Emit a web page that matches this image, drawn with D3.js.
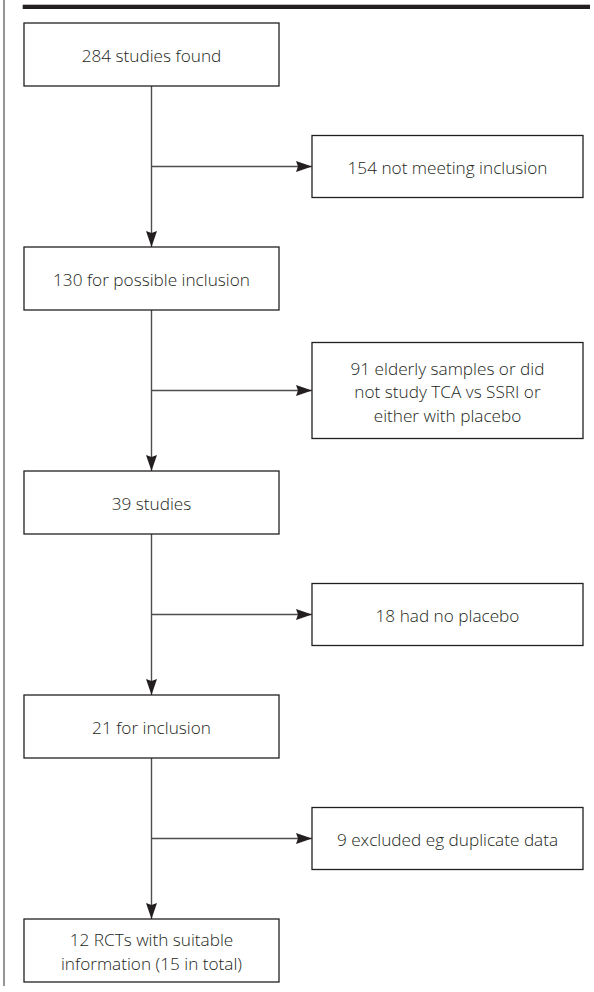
<!DOCTYPE html>
<html>
<head>
<meta charset="utf-8">
<script src="https://cdn.jsdelivr.net/npm/d3@7/dist/d3.min.js"></script>
<style>
  html, body { margin: 0; padding: 0; background: #ffffff; }
  svg { display: block; }
  text { font-family: "Open Sans", "Noto Sans", sans-serif; font-weight: 300; }
</style>
</head>
<body>
<svg id="chart" width="594" height="992"></svg>
<script>
// ---- Data ----
const mainSteps = [
  ["284 studies found"],
  ["130 for possible inclusion"],
  ["39 studies"],
  ["21 for inclusion"],
  ["12 RCTs with suitable", "information (15 in total)"]
];
const exclusions = [
  ["154 not meeting inclusion"],
  ["91 elderly samples or did", "not study TCA vs SSRI or", "either with placebo"],
  ["18 had no placebo"],
  ["9 excluded eg duplicate data"]
];

// ---- Layout ----
const W = 594, H = 992;
const svg = d3.select("#chart");
const ink = "#231f20", connector = "#4d4d4f";
const fontSize = 17.2, lineH = 23.5;

const y = d3.scaleLinear().domain([0, mainSteps.length - 1]).range([54.5, 950.5]);
const mainX = d3.scaleLinear().domain([0, 1]).range([24, 279]);
const sideX = d3.scaleLinear().domain([0, 1]).range([312, 583]);
const mainH = 63;
const sideH = d => d.length > 2 ? 96 : 62;

// Defs: arrowheads
const defs = svg.append("defs");
defs.append("marker")
  .attr("id", "arrow")
  .attr("viewBox", "0 0 16 11")
  .attr("refX", 16).attr("refY", 5.5)
  .attr("markerWidth", 16).attr("markerHeight", 11)
  .attr("markerUnits", "userSpaceOnUse")
  .attr("orient", "auto")
  .append("path").attr("d", "M0,0 L16,5.5 L0,11 L2,5.5 Z").attr("fill", ink);

// Frame: left rule and top bar
svg.append("line").attr("x1", 4).attr("x2", 4).attr("y1", 0).attr("y2", 986)
  .attr("stroke", "#2a2a2a").attr("stroke-width", 1);
svg.append("rect").attr("x", 22.7).attr("y", 4.7).attr("width", 590 - 22.7).attr("height", 4.3)
  .attr("fill", ink);

const cx = (mainX(0) + mainX(1)) / 2;

// Vertical connectors
const vLinks = d3.range(mainSteps.length - 1);
svg.selectAll("line.v").data(vLinks).join("line")
  .attr("class", "v")
  .attr("x1", cx).attr("x2", cx)
  .attr("y1", i => y(i) + mainH / 2)
  .attr("y2", i => y(i + 1) - mainH / 2)
  .attr("stroke", connector).attr("stroke-width", 1.4)
  .attr("marker-end", "url(#arrow)");

// Horizontal connectors
svg.selectAll("line.h").data(exclusions).join("line")
  .attr("class", "h")
  .attr("x1", cx).attr("x2", sideX(0))
  .attr("y1", (d, i) => y(i + 0.5)).attr("y2", (d, i) => y(i + 0.5))
  .attr("stroke", connector).attr("stroke-width", 1.4)
  .attr("marker-end", "url(#arrow)");

function drawText(g, lines, centerX, centerY) {
  const n = lines.length;
  g.selectAll("text").data(lines).join("text")
    .attr("x", centerX)
    .attr("y", (d, j) => centerY + 7.5 + (j - (n - 1) / 2) * lineH)
    .attr("text-anchor", "middle")
    .attr("font-size", fontSize)
    .attr("fill", ink)
    .text(d => d);
}

// Main boxes
const mainG = svg.selectAll("g.main").data(mainSteps).join("g").attr("class", "main");
mainG.append("rect")
  .attr("x", mainX(0)).attr("width", mainX(1) - mainX(0))
  .attr("y", (d, i) => y(i) - mainH / 2).attr("height", mainH)
  .attr("fill", "#fff").attr("stroke", ink).attr("stroke-width", 1.3);
mainG.each(function(d, i) { drawText(d3.select(this), d, cx, y(i)); });

// Side boxes
const sideG = svg.selectAll("g.side").data(exclusions).join("g").attr("class", "side");
sideG.append("rect")
  .attr("x", sideX(0)).attr("width", sideX(1) - sideX(0))
  .attr("y", (d, i) => y(i + 0.5) - sideH(d) / 2).attr("height", d => sideH(d))
  .attr("fill", "#fff").attr("stroke", ink).attr("stroke-width", 1.3);
sideG.each(function(d, i) { drawText(d3.select(this), d, (sideX(0) + sideX(1)) / 2, y(i + 0.5)); });
</script>
</body>
</html>
